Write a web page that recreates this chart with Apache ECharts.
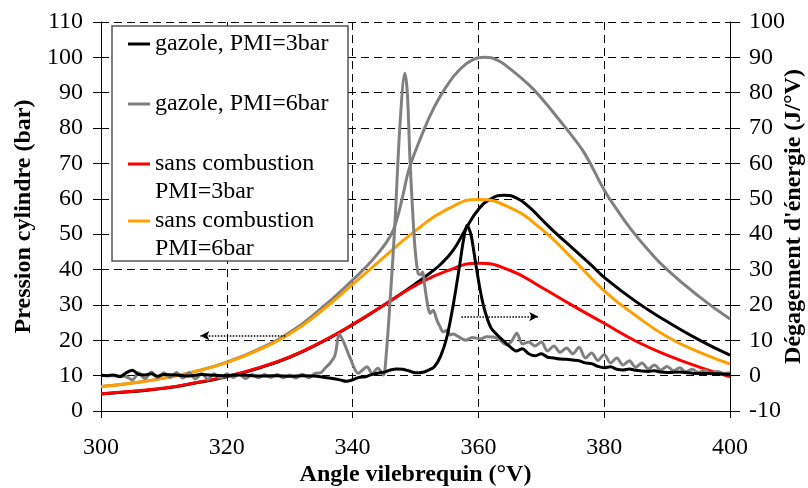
<!DOCTYPE html>
<html>
<head>
  <meta charset="UTF-8">
  <title>Pression cylindre et dégagement d'énergie</title>
  <style>
    html, body { margin: 0; padding: 0; background: #fff; }
    #chart { width: 808px; height: 488px; }
  </style>
</head>
<body>
  <div id="chart"></div>
  <script src="https://cdn.jsdelivr.net/npm/echarts@6/dist/echarts.min.js"></script>
  <script>
    var names = ['gazole, PMI=3bar', 'gazole, PMI=6bar', 'sans combustion\nPMI=3bar', 'sans combustion\nPMI=6bar'];

    // pression cylindre (bar), axe de gauche
    var motoredAngle = [300, 305, 310, 315, 320, 325, 330, 335, 340, 345, 350, 355, 360, 365, 370, 375, 380, 385, 390, 395, 400];
    var motored3Pressure = [4.9, 5.6, 6.5, 8.0, 9.8, 12.2, 15.3, 19.5, 24.5, 30.0, 35.5, 39.6, 41.8, 39.8, 35.0, 29.8, 24.8, 19.8, 15.8, 12.5, 9.7];
    var motored6Pressure = [6.9, 7.9, 9.3, 11.2, 13.7, 17.2, 21.8, 28.2, 35.8, 43.5, 51.0, 57.0, 59.8, 57.5, 51.5, 43.0, 34.0, 27.0, 21.0, 16.7, 13.3];

    var gazole3Angle = [300, 305, 310, 315, 320, 325, 330, 335, 340, 345, 348, 350, 352, 354, 356, 358, 360, 362, 364, 366, 368, 370, 372, 375, 378, 380, 385, 390, 395, 400];
    var gazole3Pressure = [4.8, 5.5, 6.4, 7.9, 9.7, 12.1, 15.2, 19.4, 24.4, 30.0, 33.5, 36.0, 38.6, 41.5, 45.5, 51.5, 57.0, 60.0, 61.0, 60.3, 57.8, 54.3, 50.8, 46.0, 41.2, 37.8, 31.0, 25.3, 20.2, 15.8];

    var gazole6Angle = [300, 305, 310, 315, 320, 325, 330, 335, 340, 342, 344, 346, 347, 348, 349, 351, 353, 355, 357, 359, 361, 363, 365, 368, 370, 373, 375, 377, 380, 382, 384, 387, 390, 395, 400];
    var gazole6Pressure = [6.9, 7.9, 9.3, 11.2, 13.8, 17.4, 22.2, 29.0, 37.0, 40.5, 44.5, 49.5, 54.0, 61.0, 68.5, 78.0, 86.0, 92.0, 96.5, 99.2, 100.0, 99.2, 96.8, 92.3, 88.5, 82.0, 77.5, 72.5, 62.5, 57.0, 52.0, 45.5, 40.0, 32.5, 26.0];

    // dégagement d'énergie (J/°V), axe de droite
    var hr3Angle = [300, 301, 302, 303, 304, 305, 306, 307, 308, 309, 310, 312, 314, 316, 318, 320, 322, 324, 326, 328, 330, 332, 334, 336, 338, 339, 340, 341, 342, 343, 344, 345, 346, 347, 348, 349, 350, 351, 352, 353, 354, 355, 356, 357, 357.6, 358.2, 358.8, 359.5, 360.3, 361, 362, 363, 364, 365, 366, 367, 368, 369, 370, 371, 372, 373, 374, 375, 376, 377, 378, 379, 380, 381, 382, 383, 384, 385, 386, 387, 388, 389, 390, 392, 394, 396, 398, 400];
    var hr3Value = [0.1, 0, 0.2, -0.3, 0.8, 1.5, 0.3, 0.2, 0.5, -0.2, 0.3, 0.2, -0.1, 0.3, 0.1, 0, 0.2, 0, -0.1, 0, -0.2, 0, -0.1, -0.6, -1.2, -1.6, -1.2, -0.5, -0.3, 0.3, 0.7, 1.0, 1.6, 1.9, 1.8, 1.3, 0.8, 0.9, 1.5, 2.5, 5.5, 11, 20, 31, 38, 42.5, 40, 32.5, 24, 18.5, 13.5, 11.5, 9.8, 8.2, 7.0, 7.6, 6.2, 5.6, 6.2, 5.2, 5.0, 4.7, 4.6, 4.4, 4.2, 3.6, 3.4, 2.6, 2.2, 2.5, 1.8, 1.6, 1.9, 1.5, 1.3, 1.2, 1.4, 1.0, 0.9, 1.0, 0.7, 0.6, 0.5, 0.3];

    var hr6Angle = [300, 301, 302, 303, 304, 305, 306, 307, 308, 309, 310, 311, 312, 313, 314, 315, 316, 317, 318, 319, 320, 321, 322, 323, 324, 325, 326, 327, 328, 329, 330, 331, 332, 333, 334, 335, 335.6, 336.4, 337.2, 337.9, 338.7, 339.6, 340.9, 342.3, 343.1, 344, 344.9, 345.3, 345.9, 346.7, 347.5, 348.3, 348.7, 349.1, 349.5, 349.9, 350.4, 350.8, 351.1, 351.5, 351.8, 352.3, 352.8, 353.4, 353.9, 354.4, 355, 355.5, 356, 357, 358, 359, 360.3, 361.3, 362.4, 363.4, 364.5, 365.3, 366.1, 367, 368, 369, 370, 371, 372, 373, 374, 375, 376, 377, 378, 379, 380, 381, 382, 383, 384, 385, 386, 387, 388, 389, 390, 391, 392, 393, 394, 395, 396, 397, 398, 399, 400];
    var hr6Value = [0.1, 0, 0, -0.1, -0.3, -1.2, 0.8, -0.9, 1.0, -0.6, 0.8, -0.5, 0.9, -0.7, 0.8, -0.9, 0.6, -1.0, 0.5, -0.7, 0.5, -0.5, 0.4, -0.8, 0.3, -0.6, 0.3, -0.5, 0.3, -0.6, 0.2, -0.7, 0.4, -0.6, 0.6, 0.9, 2.1, 3.5, 5.8, 11.7, 9.0, 5.0, 0.7, 2.5, 0.5, 2.1, 0.2, 5.0, 19.5, 42, 70, 85.5, 80, 62, 48, 36.5, 29, 28.5, 29.3, 25, 21.4, 17.6, 18.5, 15.7, 13.8, 12.4, 12.8, 11.5, 11.8, 10.8, 10.0, 10.8, 10.4, 11.0, 10.9, 10.1, 8.7, 9.8, 12.0, 9.0, 9.5, 8.4, 9.5, 7.0, 8.4, 6.6, 7.8, 6.2, 8.0, 5.0, 6.4, 4.3, 6.0, 3.6, 5.0, 3.0, 4.2, 2.4, 3.6, 1.9, 3.0, 1.6, 2.6, 1.4, 2.2, 1.1, 1.8, 0.9, 1.5, 0.7, 1.2, 0.6, 0.8];

    // flèches pointillées (angle, pression)
    var arrowLeft = [[329.3, 21.3], [315.8, 21.3]];
    var arrowRight = [[357.3, 26.7], [369.5, 26.7]];

    var serif = "'Liberation Serif', 'Times New Roman', serif";

    function zip(xs, ys) {
      return xs.map(function (x, i) { return [x, ys[i]]; });
    }

    function line(name, color, data, axisIndex, smooth) {
      return {
        name: name,
        type: 'line',
        yAxisIndex: axisIndex,
        data: data,
        smooth: smooth,
        showSymbol: false,
        symbol: 'none',
        silent: true,
        lineStyle: { color: color, width: 3 },
        itemStyle: { color: color },
        emphasis: { disabled: true }
      };
    }

    // une légende par série; les libellés sur deux lignes gardent l'icône sur la première ligne
    function legendItem(name, top, twoLines) {
      return {
        data: [name],
        left: 128,
        top: top,
        padding: 0,
        orient: 'vertical',
        icon: 'rect',
        itemWidth: 22,
        itemHeight: 3,
        selectedMode: false,
        formatter: function (n) {
          var parts = n.split('\n');
          if (!twoLines) return '{a|' + parts[0] + '}';
          return '{a| }\n{a|' + parts[0] + '}\n{a|' + parts[1] + '}';
        },
        textStyle: {
          fontFamily: serif,
          fontSize: 24,
          color: '#000',
          rich: {
            a: { fontFamily: serif, fontSize: 24, lineHeight: 28, color: '#000' }
          }
        }
      };
    }

    var gridDash = { color: '#000', type: [8, 5], width: 1 };
    var tickFont = { fontFamily: serif, fontSize: 24, color: '#000' };
    var nameFont = { fontFamily: serif, fontSize: 24, fontWeight: 'bold', color: '#000' };

    var myChart = echarts.init(document.getElementById('chart'));

    var blackPressure = line(names[0], '#000000', zip(gazole3Angle, gazole3Pressure), 0, true);
    blackPressure.markLine = {
      silent: true,
      symbol: ['none', 'arrow'],
      symbolSize: [7, 9],
      label: { show: false },
      itemStyle: { color: '#000' },
      lineStyle: { color: '#000', type: 'dotted', width: 1.5 },
      data: [
        [{ coord: arrowLeft[0] }, { coord: arrowLeft[1] }],
        [{ coord: arrowRight[0] }, { coord: arrowRight[1] }]
      ]
    };

    var option = {
      animation: false,
      grid: { left: 101, right: 78, top: 22, bottom: 77, containLabel: false, outerBoundsMode: 'none' },
      legend: [
        legendItem(names[0], 32, false),
        legendItem(names[1], 92, false),
        legendItem(names[2], 124, true),
        legendItem(names[3], 181, true)
      ],
      graphic: [{
        type: 'rect',
        z: 3,
        shape: { x: 112, y: 26, width: 236, height: 235 },
        style: { fill: '#fff', stroke: '#555', lineWidth: 1.5 }
      }],
      xAxis: {
        type: 'value',
        min: 300,
        max: 400,
        interval: 20,
        name: 'Angle vilebrequin (°V)',
        nameLocation: 'middle',
        nameGap: 52,
        nameMoveOverlap: false,
        nameTextStyle: nameFont,
        axisLine: { onZero: false, lineStyle: { color: '#000', width: 1 } },
        axisTick: { length: 7, lineStyle: { color: '#000' } },
        axisLabel: Object.assign({ margin: 25 }, tickFont),
        splitLine: { show: true, lineStyle: gridDash }
      },
      yAxis: [{
        type: 'value',
        min: 0,
        max: 110,
        interval: 10,
        name: 'Pression cylindre (bar)',
        nameLocation: 'middle',
        nameGap: 65,
        nameMoveOverlap: false,
        nameTextStyle: nameFont,
        axisLine: { show: true, onZero: false, lineStyle: { color: '#000', width: 1 } },
        axisTick: { show: true, length: 8, lineStyle: { color: '#000' } },
        axisLabel: Object.assign({ margin: 18 }, tickFont),
        splitLine: { show: true, lineStyle: gridDash }
      }, {
        type: 'value',
        position: 'right',
        min: -10,
        max: 100,
        interval: 10,
        name: "Dégagement d'énergie (J/°V)",
        nameLocation: 'middle',
        nameGap: 52,
        nameMoveOverlap: false,
        nameTextStyle: nameFont,
        axisLine: { show: true, onZero: false, lineStyle: { color: '#000', width: 1 } },
        axisTick: { show: true, length: 10, lineStyle: { color: '#000' } },
        axisLabel: Object.assign({ margin: 19 }, tickFont),
        splitLine: { show: false }
      }],
      series: [
        blackPressure,
        line(names[1], '#808080', zip(gazole6Angle, gazole6Pressure), 0, true),
        line(names[2], '#ff0000', zip(motoredAngle, motored3Pressure), 0, true),
        line(names[3], '#ffa000', zip(motoredAngle, motored6Pressure), 0, true),
        line(names[1], '#808080', zip(hr6Angle, hr6Value), 1, 0.3),
        line(names[0], '#000000', zip(hr3Angle, hr3Value), 1, 0.3)
      ]
    };

    myChart.setOption(option);
  </script>
</body>
</html>
